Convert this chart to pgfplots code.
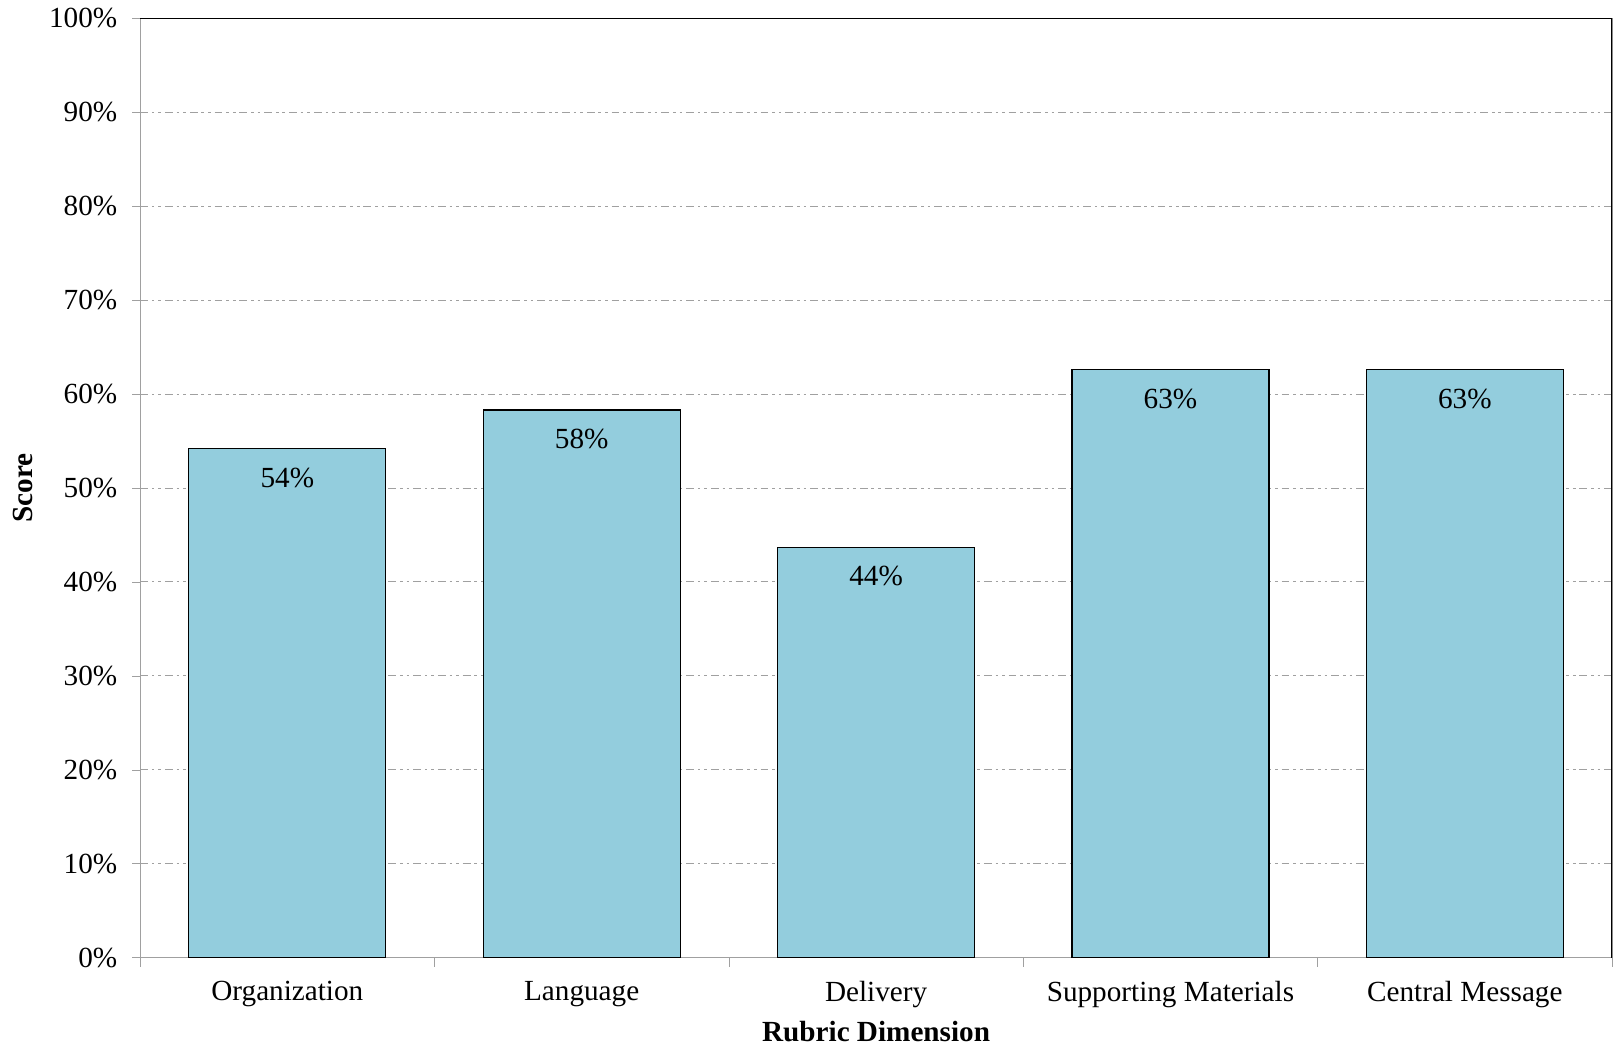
\documentclass[border=0pt]{standalone}
\usepackage{pgfplots}
\pgfplotsset{compat=1.18}
\usepackage{fontspec}
\setmainfont{Liberation Serif}

\definecolor{barblue}{RGB}{147,205,221}
\definecolor{axisgray}{RGB}{160,160,160}

\begin{document}
\begin{tikzpicture}[font=\fontsize{12}{14.4}\selectfont]
\useasboundingbox (-57.6pt,-36.2pt) rectangle (605.4pt,393.6pt);
\begin{axis}[
  scale only axis,
  width=605pt, height=386pt,
  xmin=-0.5, xmax=4.5,
  ymin=0, ymax=100,
  /pgf/number format/assume math mode=true,
  axis line style={axisgray},
  tick align=outside,
  tick pos=left,
  major tick length=3.3pt,
  minor tick length=3.7pt,
  xtick={0,...,4},
  xticklabels={Organization,Language,Delivery,Supporting Materials,Central Message},
  xticklabel style={yshift=-3pt},
  major x tick style={draw=none},
  minor xtick={-0.5,0.5,1.5,2.5,3.5,4.5},
  minor x tick style={axisgray},
  ytick={0,10,...,100},
  ytick style={axisgray},
  yticklabel={\pgfmathprintnumber{\tick}\%},
  yticklabel style={xshift=-2.6pt},
  ymajorgrids,
  major grid style={axisgray, line width=0.4pt,
    dash pattern=on 3.2pt off 1.6pt on 1.1pt off 1.6pt on 1.1pt off 1.6pt},
  xlabel={\bfseries Rubric Dimension},
  xlabel style={at={(axis description cs:0.5,-0.079)}, anchor=center},
  ylabel={\bfseries Score},
  ylabel style={at={(axis description cs:-0.0795,0.5)}, anchor=center},
]
\addplot[ybar, bar width=81pt, fill=barblue, draw=black, line width=0.5pt,
  nodes near coords={\pgfmathprintnumber[fixed,precision=0]{\pgfplotspointmeta}\%},
  every node near coord/.append style={anchor=center, yshift=-12pt, black}]
  coordinates {(0,54.2) (1,58.3) (2,43.7) (3,62.6) (4,62.6)};
% frame: top and right edges are drawn in black
\draw[black, line width=0.5pt] (rel axis cs:0,1) -- (rel axis cs:1,1) -- (rel axis cs:1,0);
\end{axis}
\end{tikzpicture}
\end{document}
